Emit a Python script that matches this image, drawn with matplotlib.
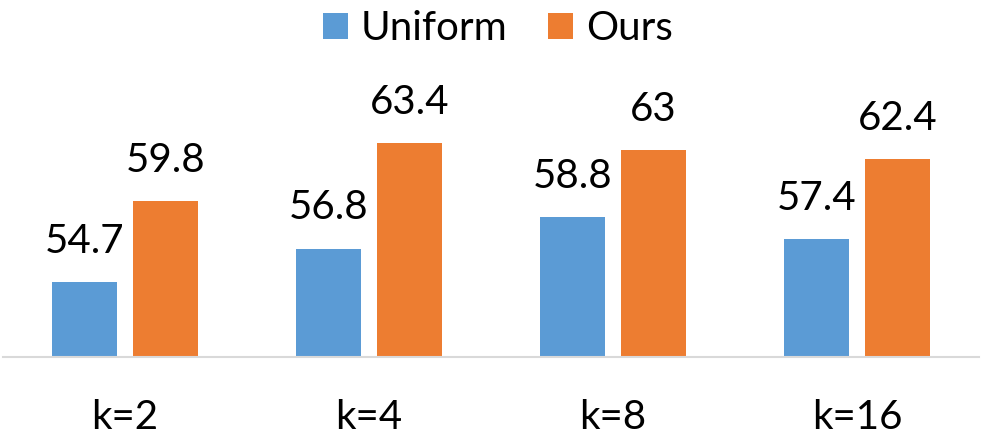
import matplotlib.pyplot as plt
import numpy as np

plt.rcParams['font.family'] = ['Lato', 'DejaVu Sans']

categories = ['k=2', 'k=4', 'k=8', 'k=16']
uniform = [54.7, 56.8, 58.8, 57.4]
ours = [59.8, 63.4, 63.0, 62.4]

blue = '#5B9BD5'
orange = '#ED7D31'

fig = plt.figure(figsize=(9.83, 4.41), dpi=100)
# axes placed so the baseline sits where the reference has it
ax = fig.add_axes([3 / 983, 1 - 357 / 441, 976 / 983, 16 * 15.94 / 441])

x = np.arange(len(categories))
w = 0.266
off = 0.166
b1 = ax.bar(x - off, uniform, w, color=blue, label='Uniform')
b2 = ax.bar(x + off, ours, w, color=orange, label='Ours')

ax.bar_label(b1, fmt='{:g}', padding=16, fontsize=29)
ax.bar_label(b2, fmt='{:g}', padding=16, fontsize=29)

ax.set_xlim(-0.5, 3.5)
ax.set_ylim(50, 66)
ax.set_xticks(x)
ax.set_xticklabels(categories, fontsize=29)
ax.tick_params(axis='x', length=0, pad=30)
ax.set_yticks([])
for s in ['top', 'left', 'right']:
    ax.spines[s].set_visible(False)
ax.spines['bottom'].set_color('#D9D9D9')
ax.spines['bottom'].set_linewidth(1.5)

fig.legend(loc='center', bbox_to_anchor=(498 / 983, 1 - 29 / 441), ncol=2,
           frameon=False, fontsize=29, handlelength=0.62, handleheight=0.62,
           handletextpad=0.33, columnspacing=1.0, borderaxespad=0)

fig.savefig('out.png', dpi=100)
